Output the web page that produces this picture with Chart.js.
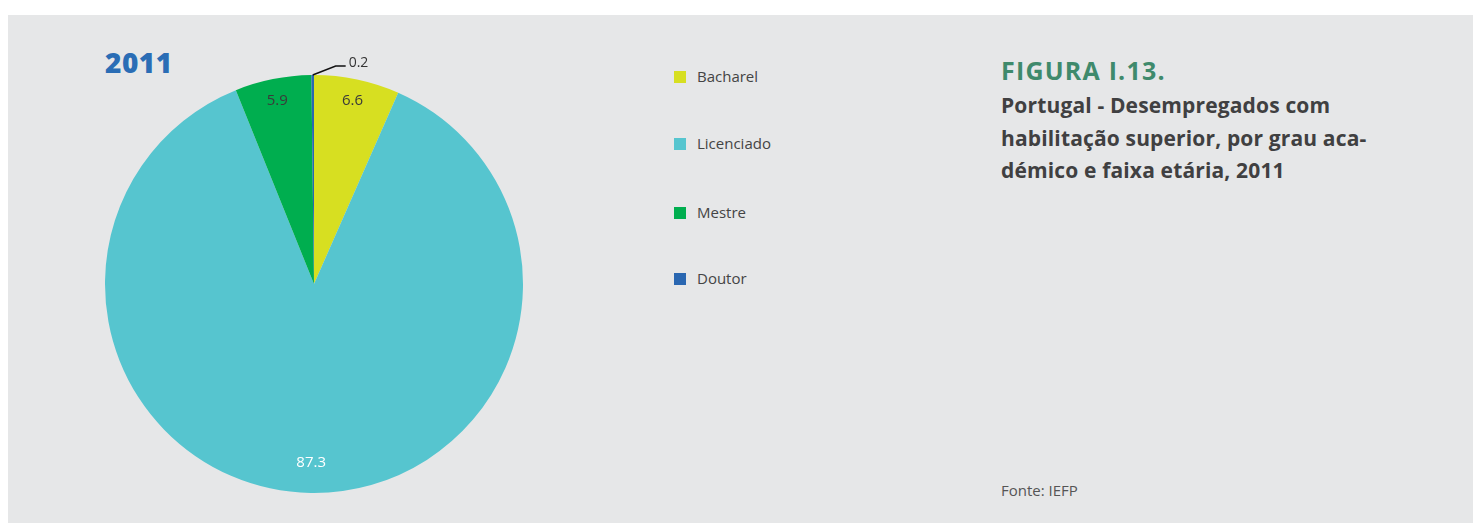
<!DOCTYPE html>
<html>
<head>
<meta charset="utf-8">
<script src="https://cdn.jsdelivr.net/npm/chart.js"></script>
<style>
  html, body { margin: 0; padding: 0; background: #fff; }
  body { width: 1473px; height: 523px; position: relative; overflow: hidden; font-family: "Open Sans", "Noto Sans", sans-serif; }
  #panel { position: absolute; left: 8px; top: 15px; right: 0; bottom: 0; background: #e6e7e8; }
  #year { position: absolute; left: 105px; top: 43px; font-size: 28px; font-weight: 800; color: #2a6db5; letter-spacing: 0.5px; }
  #chartBox { position: absolute; left: 95px; top: 45px; width: 438px; height: 458px; }
  #legend { position: absolute; left: 674px; top: 65px; }
  .item { position: absolute; left: 0; white-space: nowrap; font-size: 15px; color: #444; }
  .item span.sw { position: absolute; left: 0; top: 6px; width: 12px; height: 12px; }
  .item span.tx { position: absolute; left: 23px; top: 0; line-height: 22px; }
  #fig { position: absolute; left: 1001px; top: 58px; font-size: 25px; line-height: 1; font-weight: 700; color: #3f8a6c; letter-spacing: 1.2px; }
  #sub { position: absolute; left: 1001px; top: 89px; font-size: 21px; font-weight: 700; color: #404041; line-height: 32.5px; letter-spacing: 0.15px; width: 440px; }
  #src { position: absolute; left: 1001px; top: 480px; font-size: 15px; color: #555; }
</style>
</head>
<body>
<div id="panel"></div>
<div id="year">2011</div>
<div id="chartBox"><canvas id="myChart" width="438" height="458"></canvas></div>
<div id="legend"></div>
<div id="fig">FIGURA I.13.</div>
<div id="sub">Portugal - Desempregados com<br>habilitação superior, por grau aca-<br>démico e faixa etária, 2011</div>
<div id="src">Fonte: IEFP</div>

<script>
const labels = ['Bacharel', 'Licenciado', 'Mestre', 'Doutor']
const values = [6.6, 87.3, 5.9, 0.2]
const colors = ['#d7df21', '#56c5cf', '#00ae4f', '#2a67b1']

// legend rows, spaced like the original layout
const legendTops = [0, 67, 136, 202]
const legendBox = document.querySelector('#legend')
labels.forEach((name, i) => {
  const row = document.createElement('div')
  row.classList.add('item')
  row.style.top = legendTops[i] + 'px'
  row.innerHTML = `<span class="sw" style="background:${colors[i]}"></span><span class="tx">${name}</span>`
  legendBox.appendChild(row)
})

// value labels: inside the slices, small slices get a leader line
const sliceLabels = {
  id: 'sliceLabels',
  afterDatasetsDraw(chart) {
    const ctx = chart.ctx
    const meta = chart.getDatasetMeta(0)
    ctx.save()
    ctx.font = '15px "Open Sans", "Noto Sans", sans-serif'
    ctx.textBaseline = 'middle'
    meta.data.forEach((arc, i) => {
      const v = values[i]
      const { x, y, startAngle, endAngle, outerRadius } = arc.getProps(['x', 'y', 'startAngle', 'endAngle', 'outerRadius'], true)
      const mid = (startAngle + endAngle) / 2
      if (v < 1) {
        const px = x + Math.cos(mid) * outerRadius
        const py = y + Math.sin(mid) * outerRadius
        ctx.strokeStyle = '#111'
        ctx.lineWidth = 1.5
        ctx.beginPath()
        ctx.moveTo(px, py)
        ctx.lineTo(px + 23, py - 9)
        ctx.lineTo(px + 33, py - 9)
        ctx.stroke()
        ctx.fillStyle = '#333'
        ctx.textAlign = 'left'
        ctx.font = '14px "Open Sans", "Noto Sans", sans-serif'
        ctx.fillText(v.toFixed(1), px + 36, py - 12)
        ctx.font = '15px "Open Sans", "Noto Sans", sans-serif'
        return
      }
      const r = v > 50 ? outerRadius * 0.855 : outerRadius * 0.895
      ctx.fillStyle = v > 50 ? '#ffffff' : '#3a3a3a'
      ctx.textAlign = 'center'
      ctx.fillText(v.toFixed(1), x + Math.cos(mid) * r, y + Math.sin(mid) * r)
    })
    ctx.restore()
  }
}

new Chart(document.getElementById('myChart'), {
  type: 'pie',
  data: {
    labels: labels,
    datasets: [{
      data: values,
      backgroundColor: colors,
      borderWidth: 0
    }]
  },
  options: {
    responsive: false,
    animation: false,
    layout: { padding: { top: 30, left: 10, right: 10, bottom: 10 } },
    plugins: {
      legend: { display: false },
      tooltip: { enabled: false }
    }
  },
  plugins: [sliceLabels]
})
</script>
</body>
</html>
